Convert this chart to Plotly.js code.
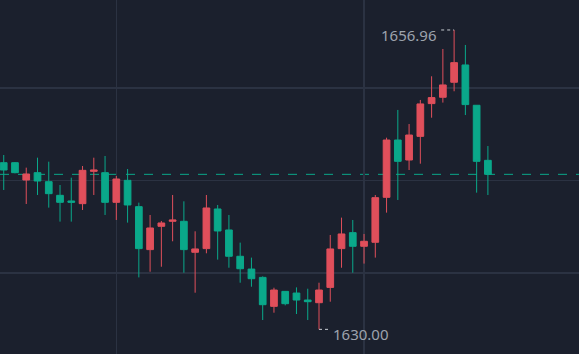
<!DOCTYPE html>
<html>
<head>
<meta charset="utf-8">
<script src="https://cdn.plot.ly/plotly-3.0.1.min.js"></script>
<style>
  html, body { margin: 0; padding: 0; background: #1b202d; }
  #chart { width: 579px; height: 354px; }
</style>
</head>
<body>
<div id="chart"></div>
<script>
// Candle index (time slots)
const idx = [0,1,2,3,4,5,6,7,8,9,10,11,12,13,14,15,16,17,18,19,20,21,22,23,24,25,26,27,28,29,30,31,32,33,34,35,36,37,38,39,40,41,42,43];

const open  = [1645.01,1645.01,1643.45,1644.11,1643.30,1642.07,1641.56,1641.32,1644.23,1644.11,
               1641.44,1643.42,1641.05,1637.18,1639.28,1639.73,1639.73,1636.94,1637.27,1640.84,
               1638.95,1636.58,1635.43,1634.68,1632.07,1633.42,1633.27,1632.64,1632.40,1633.78,
               1637.27,1638.71,1637.48,1637.84,1641.89,1647.05,1645.25,1647.38,1650.33,1650.90,
               1652.25,1653.81,1650.18,1645.22];
const high  = [1645.70,1645.07,1644.56,1645.46,1645.10,1643.00,1643.66,1644.71,1645.46,1645.61,
               1643.81,1644.44,1641.41,1640.30,1639.76,1642.10,1641.53,1638.83,1642.10,1641.20,
               1640.30,1637.81,1636.46,1634.77,1633.75,1633.45,1633.78,1633.66,1634.20,1638.50,
               1640.06,1639.85,1638.59,1642.10,1647.26,1649.76,1648.49,1650.66,1652.79,1655.25,
               1656.96,1655.61,1650.18,1646.51];
const low   = [1642.55,1644.05,1641.29,1642.10,1640.96,1639.70,1639.70,1640.75,1642.10,1640.30,
               1639.85,1639.61,1634.68,1635.19,1635.64,1637.93,1635.10,1633.30,1636.85,1636.28,
               1635.55,1634.20,1633.84,1630.84,1631.50,1632.16,1631.38,1630.84,1630.00,1632.49,
               1635.55,1635.10,1635.92,1636.46,1640.51,1641.65,1644.35,1644.92,1649.06,1650.42,
               1651.44,1649.30,1642.31,1642.10];
const close = [1644.35,1644.11,1643.99,1643.36,1642.22,1641.44,1641.44,1644.32,1644.35,1641.44,
               1643.54,1641.20,1637.27,1639.13,1639.58,1639.85,1637.18,1637.24,1640.93,1638.86,
               1636.58,1635.46,1634.56,1632.22,1633.54,1632.31,1632.64,1632.49,1633.54,1637.24,
               1638.59,1637.48,1637.93,1641.86,1647.05,1645.13,1647.50,1650.30,1650.87,1652.01,
               1654.02,1650.24,1645.13,1643.96];

// Axis gridline positions
const priceGrid = [1635.08, 1643.42, 1651.75];
const timeGrid = [10, 32];

const UP = '#e04f5b', DOWN = '#0aa88a', BG = '#1b202d', GRID = '#2b3242', LABEL = '#9da3ad';

// find extreme points
let hiI = 0, loI = 0;
for (let i = 0; i < high.length; i++) {
  if (high[i] > high[hiI]) hiI = i;
  if (low[i] < low[loI]) loI = i;
}
const lastClose = close[close.length - 1];

const trace = {
  type: 'candlestick',
  x: idx, open: open, high: high, low: low, close: close,
  increasing: { line: { color: UP, width: 1 }, fillcolor: UP },
  decreasing: { line: { color: DOWN, width: 1 }, fillcolor: DOWN },
  whiskerwidth: 0,
  hoverinfo: 'skip'
};

const layout = {
  width: 579, height: 354,
  margin: { l: 0, r: 0, t: 0, b: 0 },
  paper_bgcolor: BG, plot_bgcolor: BG,
  showlegend: false,
  boxgap: 0.15,
  xaxis: {
    range: [-0.33, 51.09],
    rangeslider: { visible: false },
    tickvals: timeGrid, showticklabels: false, ticks: '',
    showgrid: true, gridcolor: GRID, gridwidth: 1.5,
    zeroline: false, showline: false, fixedrange: true
  },
  yaxis: {
    range: [1627.78, 1659.66],
    tickvals: priceGrid, showticklabels: false, ticks: '',
    showgrid: true, gridcolor: GRID, gridwidth: 1.5,
    zeroline: false, showline: false, fixedrange: true
  },
  shapes: [
    { type: 'line', xref: 'paper', x0: 0, x1: 1, yref: 'y', y0: lastClose, y1: lastClose,
      line: { color: DOWN, width: 1, dash: 'dash' }, layer: 'below' },
    { type: 'line', xref: 'x', x0: hiI - 1.15, x1: hiI, yref: 'y', y0: high[hiI], y1: high[hiI],
      line: { color: '#c8ccd2', width: 1, dash: 'dot' } },
    { type: 'line', xref: 'x', x0: loI, x1: loI + 1.0, yref: 'y', y0: low[loI], y1: low[loI],
      line: { color: '#c8ccd2', width: 1, dash: 'dot' } }
  ],
  annotations: [
    { x: hiI, y: high[hiI], xref: 'x', yref: 'y', text: high[hiI].toFixed(2),
      showarrow: false, xanchor: 'right', yanchor: 'middle', xshift: -15, yshift: -5,
      font: { family: 'Noto Sans, sans-serif', size: 15, color: LABEL } },
    { x: loI, y: low[loI], xref: 'x', yref: 'y', text: low[loI].toFixed(2),
      showarrow: false, xanchor: 'left', yanchor: 'middle', xshift: 12, yshift: -5,
      font: { family: 'Noto Sans, sans-serif', size: 15, color: LABEL } }
  ]
};

Plotly.newPlot('chart', [trace], layout, { displayModeBar: false, staticPlot: true });
</script>
</body>
</html>
